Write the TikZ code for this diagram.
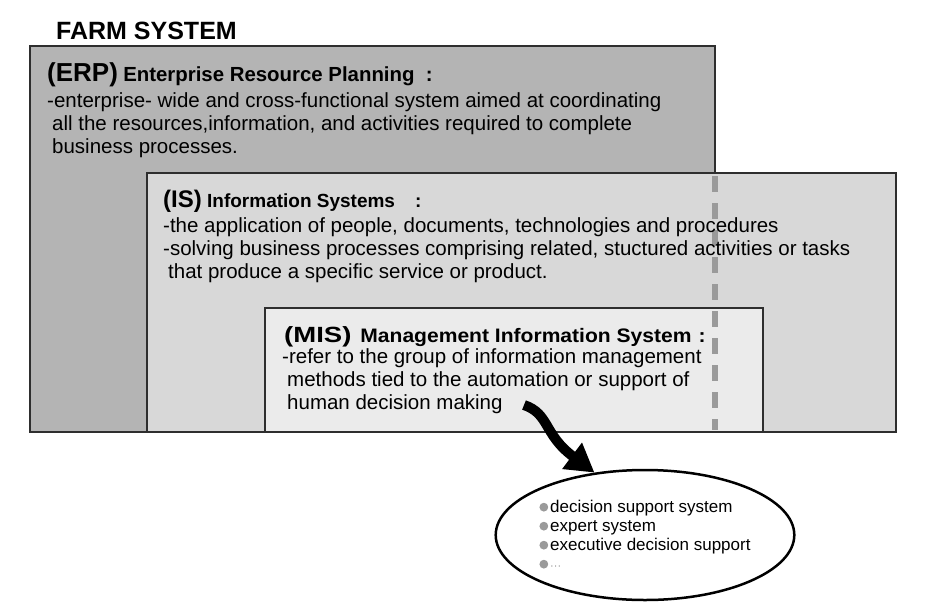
\documentclass[tikz,border=0pt]{standalone}
\usepackage{fontspec}
\setmainfont{Liberation Sans}
\usetikzlibrary{arrows.meta,shapes.geometric}
\definecolor{boxline}{HTML}{2E2E2E}
\definecolor{erpgray}{HTML}{B4B4B4}
\definecolor{isgray}{HTML}{D8D8D8}
\definecolor{misgray}{HTML}{EBEBEB}
\definecolor{dotgray}{HTML}{9A9A9A}
\newcommand{\itemdot}{\tikz[baseline=0pt]\fill[dotgray] (0pt,5.5pt) circle (4.4pt);\hspace{2pt}}

\begin{document}
\begin{tikzpicture}[x=1pt,y=-1pt,
  layer/.style={draw=boxline,line width=1.5pt},
  head/.style={anchor=base west,inner sep=0,font=\bfseries\fontsize{19}{19}\selectfont},
  txt/.style={anchor=base west,inner sep=0,font=\fontsize{20.5}{23}\selectfont},
  big/.style={font=\bfseries\fontsize{25}{25}\selectfont}]
  \useasboundingbox (0,0) rectangle (925,607);

  % nested layers
  \draw[layer,fill=erpgray] (30,46) rectangle (715,432);
  \draw[layer,fill=isgray] (147,173) rectangle (896,432);
  \draw[layer,fill=misgray] (265,308) rectangle (763,432);
  \draw[dotgray,line width=6pt,dash pattern=on 16pt off 11pt] (715,176) -- (715,430);

  \node[head,big] (farm) at (56,40) {FARM SYSTEM};

  % ERP
  \node[head] (erphead) at (47,82)
    {{\fontsize{26}{26}\selectfont (ERP)} {\fontsize{20.4}{20}\selectfont
      Enterprise Resource Planning\ \ :}};
  \node[txt] (erp1) at (47,107)
    {-enterprise- wide and cross-functional system aimed at coordinating};
  \node[txt] (erp2) at (52,130)
    {all the resources,information, and activities required to complete};
  \node[txt] (erp3) at (52,153) {business processes.};

  % IS
  \node[head] (ishead) at (163,207)
    {{\fontsize{24}{24}\selectfont (IS)} Information Systems\hspace{20pt}:};
  \node[txt] (is1) at (163,232)
    {-the application of people, documents, technologies and procedures};
  \node[txt] (is2) at (163,255)
    {-solving business processes comprising related, stuctured activities or tasks};
  \node[txt] (is3) at (168,278) {that produce a specific service or product.};

  % MIS
  \node[head] (mishead) at (284,342)
    {{\addfontfeature{FakeStretch=1.25}\fontsize{22}{22}\selectfont (MIS)}\hspace{9pt}%
     {\addfontfeature{FakeStretch=1.08}\fontsize{19.5}{20}\selectfont
      Management Information System\hspace{7pt}:}};
  \node[txt] (mis1) at (282,363) {-refer to the group of information management};
  \node[txt] (mis2) at (287,386) {methods tied to the automation or support of};
  \node[txt] (mis3) at (287,409) {human decision making};

  % tools
  \node[ellipse,draw,line width=2.5pt,minimum width=293pt,minimum height=130pt,
    inner sep=0,align=left,font=\fontsize{17}{19}\selectfont] (tools) at (645,535)
    {\itemdot decision support system\\ \itemdot expert system\\
     \itemdot executive decision support\\
     \itemdot{\fontsize{11}{11}\selectfont\textcolor{black!45}{···}}};

  \coordinate (arrowstart) at (524,405);
  \draw[line width=10pt,-{Triangle[length=28pt,width=31pt]}]
    (arrowstart) .. controls (550,414) and (543,434) .. (tools.129);
\end{tikzpicture}
\end{document}
